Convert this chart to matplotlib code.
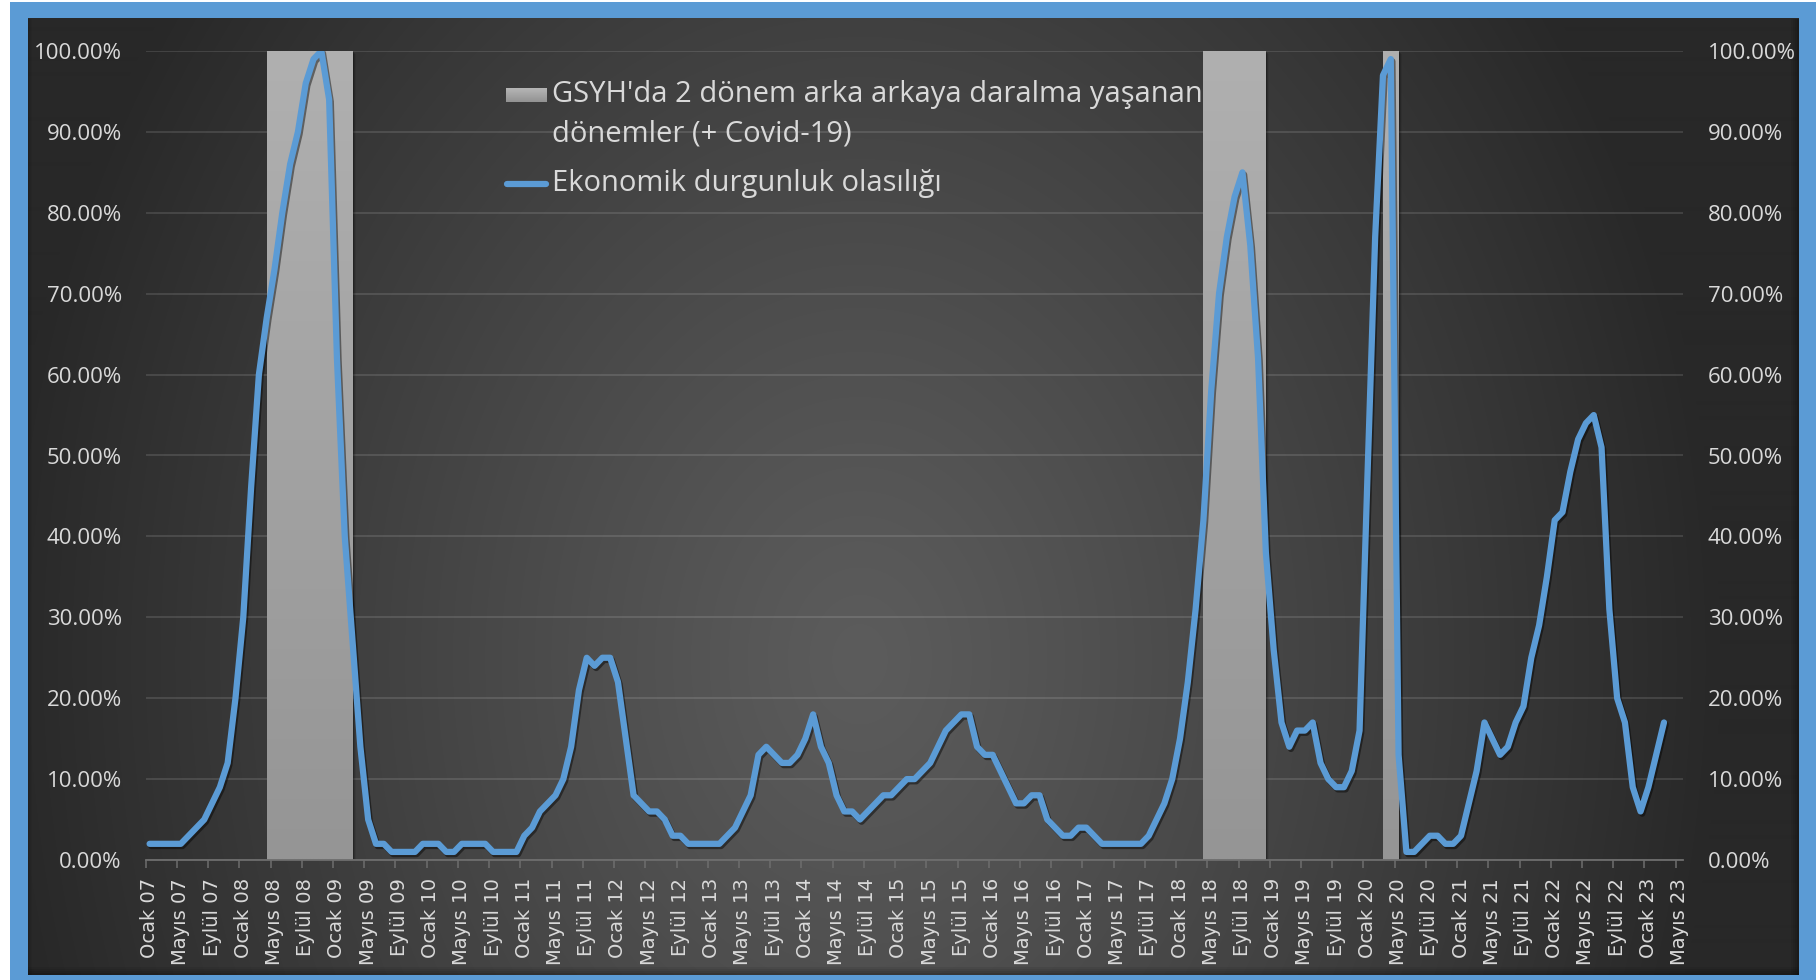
import numpy as np
import matplotlib
matplotlib.use("Agg")
import matplotlib.pyplot as plt
import matplotlib.patheffects as pe
from matplotlib.patches import Rectangle
from matplotlib.transforms import ScaledTranslation

W, H, DPI = 1816, 980, 100

# ---- data -------------------------------------------------------------
MONTHS = ["Ocak", "Şubat", "Mart", "Nisan", "Mayıs", "Haziran",
          "Temmuz", "Ağustos", "Eylül", "Ekim", "Kasım", "Aralık"]
START_YEAR = 7          # 2007
N_CATEGORIES = 197      # Ocak 07 ... Mayıs 23

# Monthly recession probability (%), Ocak 07 - Mart 23
probability_pct = [
    2, 2, 2, 2, 2, 3, 4, 5, 7, 9,
    12, 20, 30, 46, 60, 67, 73, 80, 86, 90,
    96, 99, 100, 94, 62, 40, 27, 14, 5, 2,
    2, 1, 1, 1, 1, 2, 2, 2, 1, 1,
    2, 2, 2, 2, 1, 1, 1, 1, 3, 4,
    6, 7, 8, 10, 14, 21, 25, 24, 25, 25,
    22, 15, 8, 7, 6, 6, 5, 3, 3, 2,
    2, 2, 2, 2, 3, 4, 6, 8, 13, 14,
    13, 12, 12, 13, 15, 18, 14, 12, 8, 6,
    6, 5, 6, 7, 8, 8, 9, 10, 10, 11,
    12, 14, 16, 17, 18, 18, 14, 13, 13, 11,
    9, 7, 7, 8, 8, 5, 4, 3, 3, 4,
    4, 3, 2, 2, 2, 2, 2, 2, 3, 5,
    7, 10, 15, 22, 31, 42, 58, 70, 77, 82,
    85, 76, 62, 38, 26, 17, 14, 16, 16, 17,
    12, 10, 9, 9, 11, 16, 47, 77, 97, 99,
    13, 1, 1, 2, 3, 3, 2, 2, 3, 7,
    11, 17, 15, 13, 14, 17, 19, 25, 29, 35,
    42, 43, 48, 52, 54, 55, 51, 31, 20, 17,
    9, 6, 9, 13, 17,
]

# Months with two consecutive quarters of GDP contraction (+ Covid-19):
# (first month index, last month index) counted from Ocak 07
contraction_spans = [(15, 25), (135, 142), (158, 159)]

y_ticks = [0.0, 0.1, 0.2, 0.3, 0.4, 0.5, 0.6, 0.7, 0.8, 0.9, 1.0]
label_positions = list(range(0, N_CATEGORIES, 4))
tick_labels = [f"{MONTHS[i % 12]} {START_YEAR + i // 12:02d}" for i in label_positions]

bar_label_lines = ["GSYH'da 2 dönem arka arkaya daralma yaşanan",
                   "dönemler (+ Covid-19)"]
line_label = "Ekonomik durgunluk olasılığı"

# ---- style -------------------------------------------------------------
FRAME_BLUE = "#5B9BD5"
LINE_BLUE = "#5B9BD5"
TEXT = "#D9D9D9"
UI_FONT = "Open Sans"


def frac_rect(x0, y0, x1, y1):
    """Pixel box (origin top-left) -> figure-fraction [l, b, w, h]."""
    return [x0 / W, 1 - y1 / H, (x1 - x0) / W, (y1 - y0) / H]


def gray_gradient(top, bottom, n=256):
    g = np.linspace(top, bottom, n)[:, None] / 255.0
    return np.dstack([g, g, g])


fig = plt.figure(figsize=(W / DPI, H / DPI), dpi=DPI, facecolor="white")

# ---- frame and chart-area background (pixel coordinates) ---------------
ax_bg = fig.add_axes([0, 0, 1, 1], zorder=0)
ax_bg.set_xlim(0, W)
ax_bg.set_ylim(H, 0)
ax_bg.axis("off")
ax_bg.add_patch(Rectangle((10, 2), W - 10, H - 2, facecolor=FRAME_BLUE,
                          edgecolor="none", zorder=0))

cx0, cy0, cx1, cy1 = 28, 19, 1799, 975
yy, xx = np.mgrid[cy0:cy1, cx0:cx1] + 0.5
r = np.sqrt(((xx - 860) / 860.0) ** 2 + ((yy - 660) / 1100.0) ** 2)
shade = (92 - 52 * np.clip(r, 0, 1) ** 1.15) / 255.0
ax_bg.imshow(np.dstack([shade, shade, shade]), extent=(cx0, cx1, cy1, cy0),
             origin="upper", aspect="auto", interpolation="bilinear", zorder=1)
# darker inner edge along the chart-area border
for k, a in enumerate([0.30, 0.22, 0.14, 0.07]):
    ax_bg.add_patch(Rectangle((cx1 - 2 * (k + 1), cy0), 2, cy1 - cy0,
                              facecolor="black", alpha=a, edgecolor="none", zorder=2))
    ax_bg.add_patch(Rectangle((cx0, cy1 - 2 * (k + 1)), cx1 - cx0, 2,
                              facecolor="black", alpha=a, edgecolor="none", zorder=2))
    ax_bg.add_patch(Rectangle((cx0 + k, cy0), 1, cy1 - cy0,
                              facecolor="black", alpha=a * 0.6, edgecolor="none", zorder=2))

# ---- main plot -----------------------------------------------------------
ax = fig.add_axes(frac_rect(145.7, 51, 1683.5, 860), zorder=2)
ax.set_facecolor("none")
ax.set_axisbelow(True)

# shaded contraction periods
bar_fill = gray_gradient(0xB0, 0x95)
for first, last in contraction_spans:
    left, right = first, last + 1
    for k, a in enumerate([0.22, 0.14, 0.07]):
        off = ScaledTranslation((k + 1.5) / DPI, -(k + 1.5) / DPI, fig.dpi_scale_trans)
        ax.add_patch(Rectangle((left, 0), right - left, 1, facecolor="black",
                               alpha=a, edgecolor="none", zorder=1.8,
                               transform=ax.transData + off))
    ax.imshow(bar_fill, extent=(left, right, 0, 1), origin="upper",
              aspect="auto", interpolation="bilinear", zorder=2)

months_idx = np.arange(len(probability_pct))
ax.plot(months_idx, np.array(probability_pct) / 100.0, color=LINE_BLUE, lw=4.5,
        solid_joinstyle="round", solid_capstyle="round", zorder=4,
        path_effects=[pe.SimpleLineShadow(offset=(1.2, -1.6), shadow_color="black",
                                          alpha=0.45),
                      pe.Normal()])

ax.set_xlim(-0.5, N_CATEGORIES - 0.5)
ax.set_ylim(0, 1)

ax.set_yticks(y_ticks)
ax.set_yticklabels([f"{v * 100:.2f}%" for v in y_ticks],
                   fontfamily=UI_FONT, fontsize=16, color=TEXT)
ax.tick_params(axis="y", length=0, pad=17.2)
ax.grid(axis="y", color="white", alpha=0.13, lw=1.3)

ax.set_xticks(np.arange(-0.5, N_CATEGORIES - 1, 4))
ax.set_xticklabels([])
ax.tick_params(axis="x", which="major", length=5.8, width=1.1,
               color="#6E6E6E", direction="out")
ax.set_xticks(label_positions, minor=True)
ax.set_xticklabels(tick_labels, minor=True, rotation=90,
                   fontfamily="DejaVu Sans", fontsize=14, color=TEXT)
ax.tick_params(axis="x", which="minor", length=0, pad=13)

for side in ("top", "left", "right"):
    ax.spines[side].set_visible(False)
ax.spines["bottom"].set_color("#6E6E6E")
ax.spines["bottom"].set_linewidth(1.3)

ax2 = ax.twinx()
ax2.set_ylim(0, 1)
ax2.set_yticks(y_ticks)
ax2.set_yticklabels([f"{v * 100:.2f}%" for v in y_ticks],
                    fontfamily=UI_FONT, fontsize=16, color=TEXT)
ax2.tick_params(axis="y", length=0, pad=17.6)
for side in ax2.spines:
    ax2.spines[side].set_visible(False)

# ---- legend ------------------------------------------------------------
ax_leg = fig.add_axes([0, 0, 1, 1], zorder=6)
ax_leg.set_xlim(0, W)
ax_leg.set_ylim(H, 0)
ax_leg.axis("off")
ax_leg.patch.set_visible(False)

ax_leg.imshow(gray_gradient(0xB6, 0x92), extent=(506, 547, 102, 88),
              origin="upper", aspect="auto", interpolation="bilinear")
ax_leg.plot([506.5, 546], [184.3, 184.3], color=LINE_BLUE, lw=4.5,
            solid_capstyle="round")
ax_leg.set_xlim(0, W)
ax_leg.set_ylim(H, 0)

legend_font = dict(fontfamily=UI_FONT, fontsize=21, color=TEXT, va="baseline", ha="left")
ax_leg.text(551.7, 101.7, bar_label_lines[0], **legend_font)
ax_leg.text(551.7, 141.7, bar_label_lines[1], **legend_font)
ax_leg.text(551.7, 191.0, line_label, **legend_font)

fig.savefig("out.png", dpi=DPI, facecolor=fig.get_facecolor())
